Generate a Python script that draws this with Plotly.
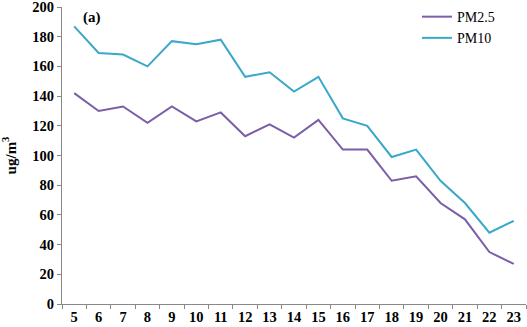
import plotly.graph_objects as go

hours = [str(h) for h in range(5, 24)]
pm25 = [142, 130, 133, 122, 133, 123, 129, 113, 121, 112, 124, 104, 104, 83, 86, 68, 57, 35, 27]
pm10 = [187, 169, 168, 160, 177, 175, 178, 153, 156, 143, 153, 125, 120, 99, 104, 83, 68, 48, 56]

font = "Liberation Serif, Times New Roman, serif"

fig = go.Figure()
fig.add_trace(go.Scatter(x=hours, y=pm25, mode="lines", name="PM2.5",
                         line=dict(color="#7b5ea7", width=2)))
fig.add_trace(go.Scatter(x=hours, y=pm10, mode="lines", name="PM10",
                         line=dict(color="#3aa8c8", width=2)))

fig.update_layout(
    width=527, height=327,
    margin=dict(l=62, r=1, t=7, b=23, autoexpand=False),
    paper_bgcolor="white", plot_bgcolor="white",
    font=dict(family=font, color="black", size=14),
    showlegend=True,
    legend=dict(x=0.765, y=1.02, xanchor="left", yanchor="top",
                font=dict(family=font, size=14, color="black"),
                bgcolor="rgba(0,0,0,0)", tracegroupgap=0, itemwidth=30),
    xaxis=dict(type="category", tickson="boundaries", ticks="outside", ticklen=4,
               tickcolor="#888", showline=True, linecolor="#888", linewidth=1,
               showgrid=False, tickfont=dict(family=font, size=14.5, color="black"),
               range=[-0.5, 18.5], automargin=False, ticklabeloverflow="allow"),
    yaxis=dict(range=[0, 200], dtick=20, ticks="outside", ticklen=4, tickcolor="#888",
               showline=True, linecolor="#888", linewidth=1, showgrid=False, zeroline=False,
               tickfont=dict(family=font, size=14.5, color="black"), automargin=False,
               ticklabeloverflow="allow",
               title=dict(text="<b>ug/m<sup>3</sup></b>", font=dict(family=font, size=15), standoff=12)),
)
fig.update_xaxes(tickprefix="<b>", ticksuffix="</b>")
fig.update_yaxes(tickprefix="<b>", ticksuffix="</b>")
fig.add_annotation(text="<b>(a)</b>", xref="paper", yref="paper", x=0.04, y=1.0,
                   xanchor="left", yanchor="top", showarrow=False,
                   font=dict(family=font, size=15, color="black"))

fig.write_html("out.html", config={"displayModeBar": False},
               post_script="document.body.style.margin='0';document.body.style.overflow='hidden';")
